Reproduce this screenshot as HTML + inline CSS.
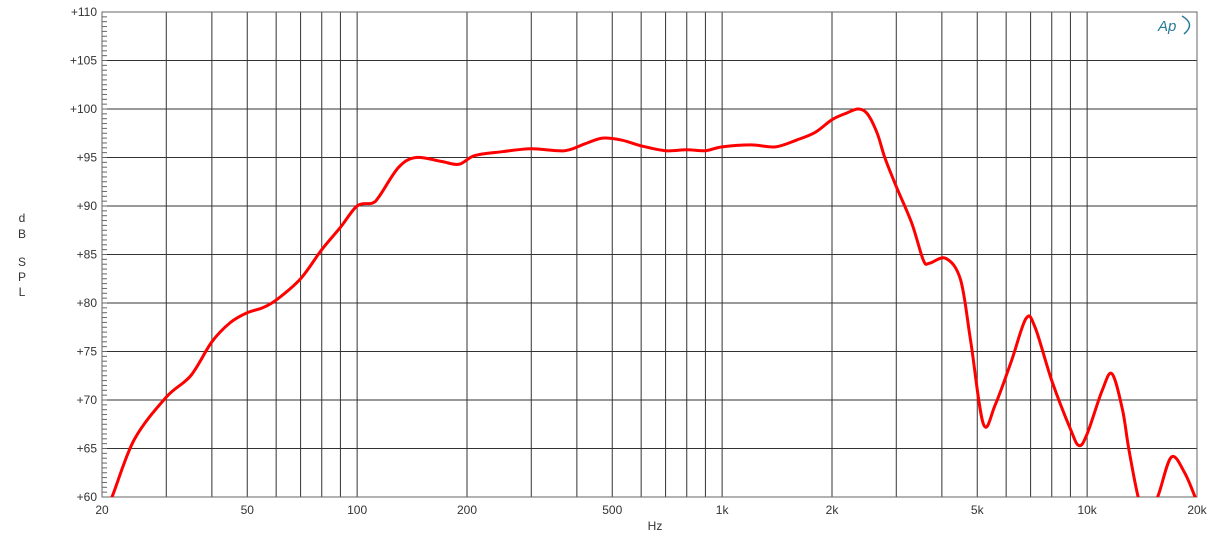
<!DOCTYPE html>
<html><head><meta charset="utf-8"><style>
body{margin:0;background:#fff;}
svg text{font-family:"Liberation Sans",sans-serif;font-size:12px;fill:#333;}
</style></head><body>
<svg id="c" width="1220" height="548">
<defs><clipPath id="clip"><rect x="102" y="12" width="1095" height="485"/></clipPath></defs>
<g id="grid"></g>
<g id="ticks"></g>
<g id="ylab"></g>
<g id="xlab"></g>
<rect x="102" y="12" width="1095" height="485" fill="none" stroke="#666" stroke-width="1"/>
<path id="curve" fill="none" stroke="#f00" stroke-width="3" clip-path="url(#clip)"/>
<text x="655" y="530" text-anchor="middle">Hz</text>
<g>
<text x="22" y="222" text-anchor="middle">d</text><text x="22" y="238" text-anchor="middle">B</text>
<text x="22" y="266" text-anchor="middle">S</text><text x="22" y="281" text-anchor="middle">P</text><text x="22" y="296" text-anchor="middle">L</text>
</g>
<g>
<text x="1158" y="31" style="font-style:italic;font-size:15px;fill:#2a7a9a;">Ap</text>
<path d="M1182 16 Q1196 24 1184 34" fill="none" stroke="#2a7a9a" stroke-width="1.5"/>
</g>
</svg>
<script>
const freqs=[20,21.3,24.5,30,35,40,45,50,55,60,70,80,90,100,110,115,130,145,170,190,210,250,300,370,420,470,530,600,700,800,900,1000,1200,1400,1600,1800,2000,2200,2360,2500,2660,2790,3000,3310,3560,3700,4100,4500,4800,5200,5600,6200,6800,7200,8000,9000,9500,10000,11000,11700,12500,13000,13800,14500,15600,17000,18500,20000];
const dbs=[58,60,65.9,70.3,72.5,76,78,79,79.5,80.3,82.5,85.5,87.8,90,90.3,91,94,95,94.6,94.3,95.2,95.6,95.9,95.7,96.4,97,96.8,96.2,95.7,95.8,95.7,96.1,96.3,96.1,96.8,97.6,98.9,99.6,100,99.5,97.5,95,92,88.2,84.4,84.1,84.6,82.4,76,67.5,69.5,74,78.4,77.5,72,67,65.3,66.5,71,72.7,69,65,60,58,60,64.1,62.5,59.5];
const yTicks=[60,65,70,75,80,85,90,95,100,105,110];
const xGrid=[20,30,40,50,60,70,80,90,100,200,300,400,500,600,700,800,900,1000,2000,3000,4000,5000,6000,7000,8000,9000,10000,20000];
const xLabelVals=[20,50,100,200,500,1000,2000,5000,10000,20000];
const xLabelText=["20","50","100","200","500","1k","2k","5k","10k","20k"];
const L=102,R=1197,T=12,B=497;
const X=f=>L+(R-L)*Math.log10(f/20)/3;
const Y=d=>T+(110-d)*(B-T)/50;
const NS="http://www.w3.org/2000/svg";
function mk(tag,parent,attrs){const e=document.createElementNS(NS,tag);for(const k in attrs)e.setAttribute(k,attrs[k]);parent.appendChild(e);return e;}
const g=document.getElementById('grid');
xGrid.forEach(f=>{const l=mk('line',g,{x1:X(f),x2:X(f),y1:T,y2:B,stroke:'#333','stroke-width':1});

});
yTicks.forEach(d=>{const l=mk('line',g,{x1:L,x2:R,y1:Y(d),y2:Y(d),stroke:'#333','stroke-width':1});

});
const tk=document.getElementById('ticks');
for(let d=60;d<=110;d+=0.5){const l=mk('line',tk,{x1:L,x2:L+5,y1:Y(d),y2:Y(d),stroke:'#666','stroke-width':1});

}
const yl=document.getElementById('ylab');
yTicks.forEach(d=>{const t=mk('text',yl,{x:97,y:Y(d)+4,'text-anchor':'end'});t.textContent='+'+d;

});
const xl=document.getElementById('xlab');
xLabelVals.forEach((f,i)=>{const t=mk('text',xl,{x:X(f),y:514,'text-anchor':'middle'});t.textContent=xLabelText[i];

});
const P=freqs.map((f,i)=>[X(f),Y(dbs[i])]);
let d='M'+P[0][0]+' '+P[0][1];
for(let i=0;i<P.length-1;i++){const p0=P[Math.max(0,i-1)],p1=P[i],p2=P[i+1],p3=P[Math.min(P.length-1,i+2)];
const c1=[p1[0]+(p2[0]-p0[0])/6,p1[1]+(p2[1]-p0[1])/6],c2=[p2[0]-(p3[0]-p1[0])/6,p2[1]-(p3[1]-p1[1])/6];
d+=` C${c1[0]} ${c1[1]} ${c2[0]} ${c2[1]} ${p2[0]} ${p2[1]}`;}
document.getElementById('curve').setAttribute('d',d);
</script>
</body></html>
